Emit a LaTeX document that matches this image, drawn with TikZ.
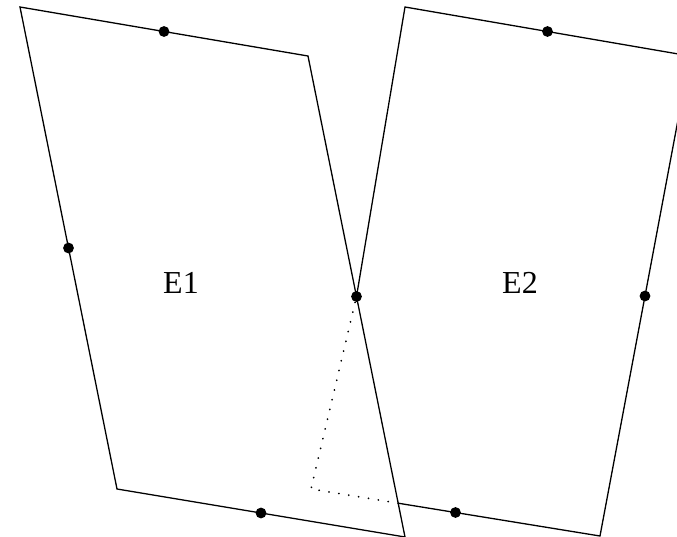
\documentclass[tikz,border=0pt]{standalone}
\usepackage{fontspec}
\setmainfont{Liberation Serif}
\usepackage{tikz}
\usetikzlibrary{calc}

\begin{document}
\begin{tikzpicture}[
    x=0.5pt, y=-0.5pt,
    edge/.style={line width=0.65pt, line join=miter},
    hidden/.style={line width=0.9pt, line cap=round, dash pattern=on 0.1pt off 4.9pt},
    vtx/.style={circle, fill=black, inner sep=0pt, minimum size=5.4pt},
    elabel/.style={font=\fontsize{16}{19}\selectfont, inner sep=0pt},
]
\clip (0,0) rectangle (677,537);

% Element corners
\coordinate (e1tl) at (20,7);
\coordinate (e1tr) at (308,56);
\coordinate (e1br) at (405,537);
\coordinate (e1bl) at (117,489);

\coordinate (e2tl) at (405,7);
\coordinate (e2tr) at (690,56);
\coordinate (e2br) at (600,536);
\coordinate (e2bl) at (311,489);

% Mid-side nodes
\node[vtx] (m1t) at ($(e1tl)!0.5!(e1tr)$) {};
\node[vtx] (m1l) at ($(e1tl)!0.5!(e1bl)$) {};
\node[vtx] (m1r) at ($(e1tr)!0.5!(e1br)$) {};
\node[vtx] (m1b) at ($(e1bl)!0.5!(e1br)$) {};

\node[vtx] (m2t) at ($(e2tl)!0.5!(e2tr)$) {};
\node[vtx] (m2r) at ($(e2tr)!0.5!(e2br)$) {};
\node[vtx] (m2b) at ($(e2bl)!0.5!(e2br)$) {};

\coordinate (cross) at (intersection of e2bl--e2br and e1tr--e1br);

% Element 1
\draw[edge] (e1tl) -- (e1tr) -- (e1br) -- (e1bl) -- cycle;

% Element 2
\draw[edge] (m1r.center) -- (e2tl) -- (e2tr) -- (e2br) -- (cross);
\draw[hidden] (cross) -- (e2bl) -- (m1r.center);

% Labels
\node[elabel] (t1) at (181,283) {E1};
\node[elabel] (t2) at (520,283) {E2};

\end{tikzpicture}
\end{document}
